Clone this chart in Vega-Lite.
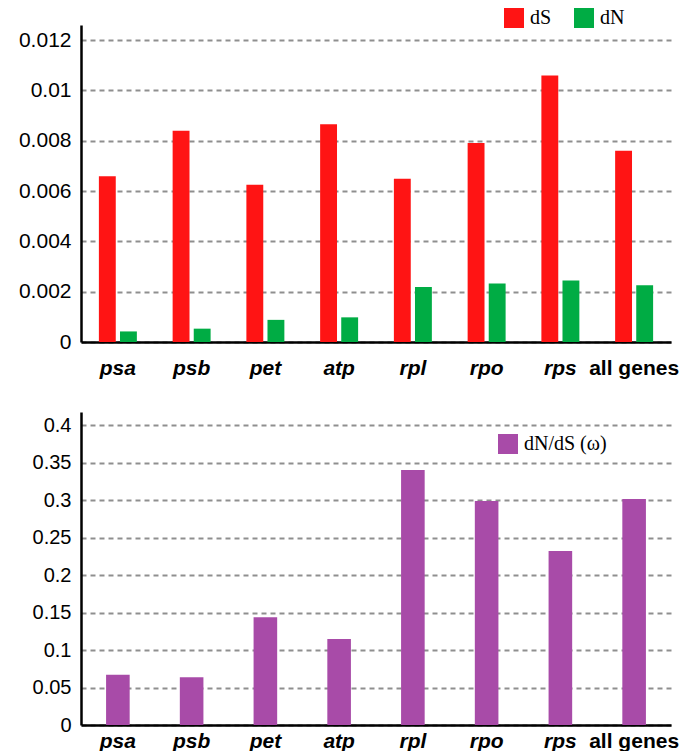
{
  "$schema": "https://vega.github.io/schema/vega-lite/v6.json",
  "padding": {"left": 18, "top": 8, "right": 0, "bottom": 0},
  "datasets": {
    "rates": [
      {"gene": "psa", "measure": "dS", "value": 0.00659},
      {"gene": "psa", "measure": "dN", "value": 0.00042},
      {"gene": "psb", "measure": "dS", "value": 0.0084},
      {"gene": "psb", "measure": "dN", "value": 0.00053},
      {"gene": "pet", "measure": "dS", "value": 0.00625},
      {"gene": "pet", "measure": "dN", "value": 0.00088},
      {"gene": "atp", "measure": "dS", "value": 0.00866},
      {"gene": "atp", "measure": "dN", "value": 0.00098},
      {"gene": "rpl", "measure": "dS", "value": 0.00649},
      {"gene": "rpl", "measure": "dN", "value": 0.00219},
      {"gene": "rpo", "measure": "dS", "value": 0.00791},
      {"gene": "rpo", "measure": "dN", "value": 0.00233},
      {"gene": "rps", "measure": "dS", "value": 0.01059},
      {"gene": "rps", "measure": "dN", "value": 0.00244},
      {"gene": "all genes", "measure": "dS", "value": 0.0076},
      {"gene": "all genes", "measure": "dN", "value": 0.00226}
    ],
    "omega": [
      {"gene": "psa", "series": "dN/dS (ω)", "value": 0.0669},
      {"gene": "psb", "series": "dN/dS (ω)", "value": 0.0638},
      {"gene": "pet", "series": "dN/dS (ω)", "value": 0.1436},
      {"gene": "atp", "series": "dN/dS (ω)", "value": 0.1146},
      {"gene": "rpl", "series": "dN/dS (ω)", "value": 0.3402},
      {"gene": "rpo", "series": "dN/dS (ω)", "value": 0.2988},
      {"gene": "rps", "series": "dN/dS (ω)", "value": 0.2319},
      {"gene": "all genes", "series": "dN/dS (ω)", "value": 0.3014}
    ]
  },
  "spacing": 34,
  "resolve": {
    "scale": {"x": "independent", "y": "independent", "color": "independent"},
    "legend": {"color": "independent"}
  },
  "vconcat": [
    {
      "data": {"name": "rates"},
      "width": 590,
      "height": 317,
      "mark": {"type": "bar"},
      "encoding": {
        "x": {
          "field": "gene", "type": "nominal",
          "sort": ["psa", "psb", "pet", "atp", "rpl", "rpo", "rps", "all genes"],
          "scale": {"paddingInner": 0.485, "paddingOuter": 0.2425},
          "axis": {"title": null, "labelPadding": 15}
        },
        "xOffset": {
          "field": "measure", "type": "nominal", "sort": ["dS", "dN"],
          "scale": {"paddingInner": 0.2, "paddingOuter": 0}
        },
        "y": {
          "field": "value", "type": "quantitative",
          "scale": {"domain": [0, 0.0126], "nice": false, "zero": true},
          "axis": {
            "title": null,
            "values": [0, 0.002, 0.004, 0.006, 0.008, 0.01, 0.012],
            "format": "~g",
            "labelFontSize": 21
          }
        },
        "color": {
          "field": "measure", "type": "nominal",
          "scale": {"domain": ["dS", "dN"], "range": ["#FF1414", "#00AC44"]},
          "legend": {
            "title": null, "orient": "none", "legendX": 423, "legendY": -17,
            "direction": "horizontal", "columnPadding": 22
          }
        }
      }
    },
    {
      "data": {"name": "omega"},
      "width": 590,
      "height": 313,
      "mark": {"type": "bar"},
      "encoding": {
        "x": {
          "field": "gene", "type": "nominal",
          "sort": ["psa", "psb", "pet", "atp", "rpl", "rpo", "rps", "all genes"],
          "scale": {"paddingInner": 0.68, "paddingOuter": 0.34},
          "axis": {"title": null, "labelPadding": 5}
        },
        "y": {
          "field": "value", "type": "quantitative",
          "scale": {"domain": [0, 0.4174], "nice": false, "zero": true},
          "axis": {
            "title": null,
            "values": [0, 0.05, 0.1, 0.15, 0.2, 0.25, 0.3, 0.35, 0.4],
            "format": "~g",
            "labelFontSize": 20
          }
        },
        "color": {
          "field": "series", "type": "nominal",
          "scale": {"range": ["#A84BA8"]},
          "legend": {
            "title": null, "orient": "none", "legendX": 417, "legendY": 22
          }
        }
      }
    }
  ],
  "config": {
    "view": {"stroke": null},
    "axis": {
      "domainColor": "#000000",
      "domainWidth": 2.5,
      "ticks": false,
      "tickSize": 0,
      "labelColor": "#000000",
      "labelFont": "Liberation Sans"
    },
    "axisY": {
      "grid": true,
      "gridDash": [5, 4],
      "gridColor": "#8f8f8f",
      "gridWidth": 2,
      "labelPadding": 10
    },
    "axisX": {
      "grid": false,
      "labelAngle": 0,
      "labelFontSize": 21,
      "labelFontWeight": "bold",
      "labelFontStyle": {"condition": {"test": "datum.value == 'all genes'", "value": "normal"}, "value": "italic"}
    },
    "legend": {
      "symbolType": "square",
      "symbolSize": 400,
      "symbolStrokeWidth": 0,
      "labelFont": "Liberation Serif",
      "labelFontSize": 20,
      "labelColor": "#000000",
      "labelOffset": 6,
      "padding": 0
    }
  }
}
